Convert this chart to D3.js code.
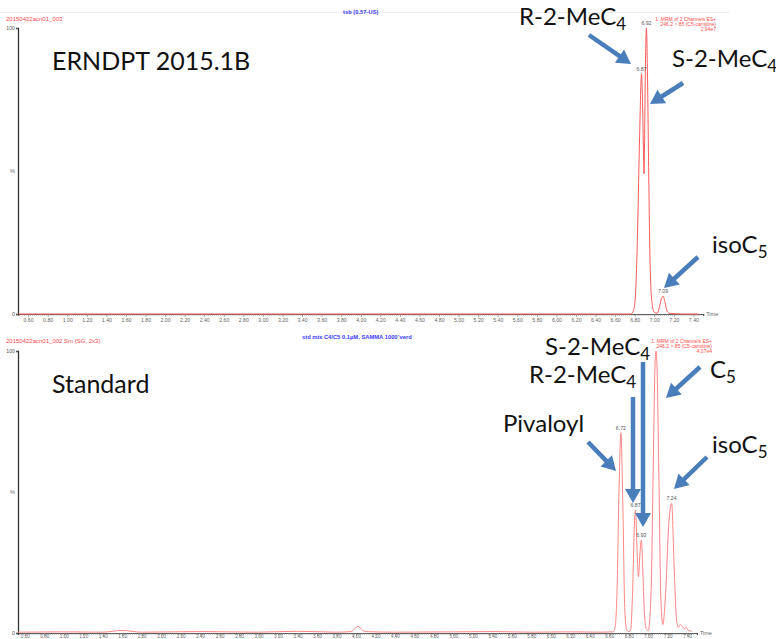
<!DOCTYPE html>
<html>
<head>
<meta charset="utf-8">
<script src="https://cdn.jsdelivr.net/npm/d3@7"></script>
<style>
  body { margin: 0; background: #fff; }
  svg { display: block; }
  .big { font-family: Lato, "Open Sans", sans-serif; fill: #111; }
  .small { font-family: "Liberation Sans", Arial, sans-serif; }
</style>
</head>
<body>
<svg id="chart" width="776" height="639"></svg>
<script>
// ERNDPT 2015.1B run, 246.2 > 85 channel, % of 2.94e7
const topTime = [0.50, 1.00, 1.50, 2.00, 2.50, 3.00, 3.50, 4.00, 4.50, 5.00,
  5.50, 6.00, 6.50, 6.76, 6.79, 6.81, 6.83, 6.85, 6.87, 6.88,
  6.89, 6.895, 6.90, 6.91, 6.92, 6.93, 6.94, 6.95, 6.96, 6.98,
  7.00, 7.03, 7.05, 7.07, 7.09, 7.11, 7.13, 7.16, 7.30, 7.45];
const topValue = [0, 0, 0, 0, 0, 0, 0, 0, 0, 0,
  0, 0, 0, 0, 1.5, 8, 30, 62, 84, 74,
  56, 49, 58, 88, 100, 85, 58, 32, 14, 3,
  0.6, 0.3, 2, 5, 6.2, 4, 1, 0.2, 0, 0];
const topPeaks = [6.87, 6.92, 7.09];

// standard mix run, % of 4.07e4
const botTime = [0.53, 1.00, 1.40, 1.60, 1.80, 2.40, 3.00, 3.40, 3.80, 3.95,
  4.02, 4.09, 4.40, 5.00, 5.40, 5.80, 6.20, 6.50, 6.64, 6.66,
  6.68, 6.70, 6.72, 6.74, 6.76, 6.78, 6.80, 6.82, 6.84, 6.86,
  6.87, 6.885, 6.90, 6.915, 6.93, 6.945, 6.96, 6.98, 7.00, 7.03,
  7.05, 7.07, 7.08, 7.09, 7.11, 7.13, 7.15, 7.18, 7.21, 7.24,
  7.27, 7.29, 7.31, 7.33, 7.35, 7.37, 7.39, 7.41, 7.45];
const botValue = [0.3, 0.4, 0.3, 0.9, 0.3, 0.5, 0.3, 0.6, 0.3, 0.5,
  2.4, 0.5, 0.3, 0.4, 0.5, 0.3, 0.4, 0.3, 0.4, 2,
  15, 50, 71, 45, 8, 1, 0.5, 1, 15, 40,
  43.6, 30, 20, 28, 33, 22, 8, 1.5, 0.8, 15,
  55, 95, 100, 95, 55, 12, 3, 15, 38, 46,
  20, 5, 2, 3, 2.4, 1.5, 2, 1, 0.6];
const botPeaks = [6.72, 6.87, 6.93, 7.24];

const timeTicks = [0.60, 0.80, 1.00, 1.20, 1.40, 1.60, 1.80, 2.00, 2.20, 2.40,
  2.60, 2.80, 3.00, 3.20, 3.40, 3.60, 3.80, 4.00, 4.20, 4.40,
  4.60, 4.80, 5.00, 5.20, 5.40, 5.60, 5.80, 6.00, 6.20, 6.40,
  6.60, 6.80, 7.00, 7.20, 7.40];

const svg = d3.select('#chart');
svg.append('rect').attr('width', 776).attr('height', 639).attr('fill', '#fff');
svg.append('line').attr('x1', 0).attr('x2', 730).attr('y1', 12.5).attr('y2', 12.5)
  .attr('stroke', '#eee');

const panels = [
  {
    time: topTime, value: topValue, peaks: topPeaks, color: '#ff5a5a',
    domain: [0.5, 7.5], xr: [18.3, 703.2], y0: 314, y1: 28, labelY: 4.5, labelSize: 5.2,
    file: '20150422acn01_003', fileY: 21,
    desc: 'tsb (0.57-US)', descX: 343, descY: 14,
    info: ['1: MRM of 2 Channels ES+', '246.2 > 85 (C5-carnitine)', '2.94e7'],
    infoX: 716, infoY: 21,
    title: 'ERNDPT 2015.1B', titleY: 70,
    notes: [
      {t: 'R-2-MeC', s: '4', x: 519, y: 25, a: [589, 35, 631, 64]},
      {t: 'S-2-MeC', s: '4', x: 672, y: 67, a: [683, 83, 650, 104]},
      {t: 'isoC', s: '5', x: 712, y: 253, a: [698, 257, 664, 288]}
    ]
  },
  {
    time: botTime, value: botValue, peaks: botPeaks, color: '#ff8585',
    domain: [0.53, 7.5], xr: [18, 696.9], y0: 633, y1: 351, labelY: 1.6, labelSize: 4.6,
    file: '20150422acn01_002 Sm (SG, 2x3)', fileY: 343,
    desc: 'std mix C4/C5  0.1\u00b5M, SAMMA  1000`verd', descX: 302, descY: 339,
    info: ['1: MRM of 2 Channels ES+', '246.2 > 85 (C5-carnitine)', '4.07e4'],
    infoX: 712, infoY: 343,
    title: 'Standard', titleY: 393,
    notes: [
      {t: 'S-2-MeC', s: '4', x: 545, y: 355, a: [643, 362, 643, 527]},
      {t: 'R-2-MeC', s: '4', x: 529, y: 383, a: [633, 397, 633, 503]},
      {t: 'Pivaloyl', s: '', x: 503, y: 432, a: [588, 442, 616, 471]},
      {t: 'C', s: '5', x: 710, y: 378, a: [700, 367, 666, 398]},
      {t: 'isoC', s: '5', x: 712, y: 453, a: [707, 457, 674, 489]}
    ]
  }
];

function arrow(g, x1, y1, x2, y2) {
  const dx = x2 - x1, dy = y2 - y1, L = Math.hypot(dx, dy);
  const ux = dx / L, uy = dy / L, hl = 14, hw = 8;
  const bx = x2 - ux * hl, by = y2 - uy * hl;
  g.append('line')
    .attr('x1', x1).attr('y1', y1).attr('x2', bx + ux).attr('y2', by + uy)
    .attr('stroke', '#4a7ebb').attr('stroke-width', 4.5);
  g.append('polygon')
    .attr('points', [[x2, y2], [bx - uy * hw, by + ux * hw], [bx + uy * hw, by - ux * hw]].join(' '))
    .attr('fill', '#4a7ebb');
}

panels.forEach(function(p) {
  const x = d3.scaleLinear().domain(p.domain).range(p.xr);
  const y = d3.scaleLinear().domain([0, 100]).range([p.y0, p.y1]);
  const g = svg.append('g');

  // x axis: minor ticks every 0.02, labelled ticks every 0.2
  const xAxis = d3.axisBottom(x)
    .tickValues(d3.range(0.54, 7.47, 0.02))
    .tickSize(2).tickFormat('');
  g.append('g').attr('transform', 'translate(0,' + p.y0 + ')').call(xAxis)
    .call(function(a) {
      a.select('.domain').attr('stroke', '#555').attr('stroke-width', 1.2);
      a.selectAll('.tick line').attr('stroke', '#888').attr('stroke-width', 0.5);
    });
  const xMajor = d3.axisBottom(x).tickValues(timeTicks).tickSize(3)
    .tickFormat(d3.format('.2f'));
  g.append('g').attr('transform', 'translate(0,' + p.y0 + ')').call(xMajor)
    .call(function(a) {
      a.select('.domain').remove();
      a.selectAll('.tick line').attr('stroke', '#777').attr('stroke-width', 0.6);
      a.selectAll('.tick text').attr('y', p.labelY).attr('fill', '#666')
        .attr('font-size', p.labelSize).attr('font-family', 'Liberation Sans, Arial, sans-serif');
    });
  g.append('text').attr('class', 'small').attr('x', p.xr[1] + 3).attr('y', p.y0 + 2)
    .attr('font-size', 5.5).attr('fill', '#666').text('Time');

  // y axis
  const yAxis = d3.axisLeft(y).tickValues([0, 100]).tickSize(2);
  g.append('g').attr('transform', 'translate(18,0)').call(yAxis)
    .call(function(a) {
      a.select('.domain').attr('stroke', '#333').attr('stroke-width', 1.3);
      a.selectAll('.tick line').attr('stroke', '#555');
      a.selectAll('.tick text').attr('x', -3).attr('fill', '#555')
        .attr('font-size', 5.2).attr('font-family', 'Liberation Sans, Arial, sans-serif');
    });
  g.append('text').attr('class', 'small').attr('x', 15).attr('y', y(50) + 2)
    .attr('text-anchor', 'end').attr('font-size', 5.5).attr('fill', '#666').text('%');

  // trace
  const pts = p.time.map(function(t, i) { return [t, p.value[i]]; });
  const line = d3.line()
    .x(function(d) { return x(d[0]); })
    .y(function(d) { return y(d[1]); })
    .curve(d3.curveMonotoneX);
  g.append('path').datum(pts).attr('d', line)
    .attr('fill', 'none').attr('stroke', p.color).attr('stroke-width', 1);

  // peak labels
  p.peaks.forEach(function(t) {
    const near = pts.filter(function(d) { return Math.abs(d[0] - t) < 0.012; });
    const top = d3.max(near, function(d) { return d[1]; });
    g.append('text').attr('class', 'small')
      .attr('x', x(t)).attr('y', y(top) - 3)
      .attr('text-anchor', 'middle').attr('font-size', 5.2).attr('fill', '#555')
      .text(d3.format('.2f')(t));
  });

  // headers
  g.append('text').attr('class', 'small').attr('x', 6).attr('y', p.fileY)
    .attr('font-size', 6).attr('fill', '#ff4d4d').text(p.file);
  g.append('text').attr('class', 'small').attr('x', p.descX).attr('y', p.descY)
    .attr('font-size', 5.8).attr('font-weight', 'bold').attr('fill', '#3a3aff').text(p.desc);
  p.info.forEach(function(s, i) {
    g.append('text').attr('class', 'small').attr('x', p.infoX).attr('y', p.infoY + i * 5.2)
      .attr('text-anchor', 'end').attr('font-size', 5).attr('fill', '#ff4d4d').text(s);
  });

  // annotations
  g.append('text').attr('class', 'big').attr('x', 52).attr('y', p.titleY)
    .attr('font-size', 25).text(p.title);
  p.notes.forEach(function(n) {
    const t = g.append('text').attr('class', 'big').attr('x', n.x).attr('y', n.y)
      .attr('font-size', 24);
    t.append('tspan').text(n.t);
    if (n.s) t.append('tspan').attr('font-size', 17).attr('dy', 5).text(n.s);
    arrow(g, n.a[0], n.a[1], n.a[2], n.a[3]);
  });
});
</script>
</body>
</html>
